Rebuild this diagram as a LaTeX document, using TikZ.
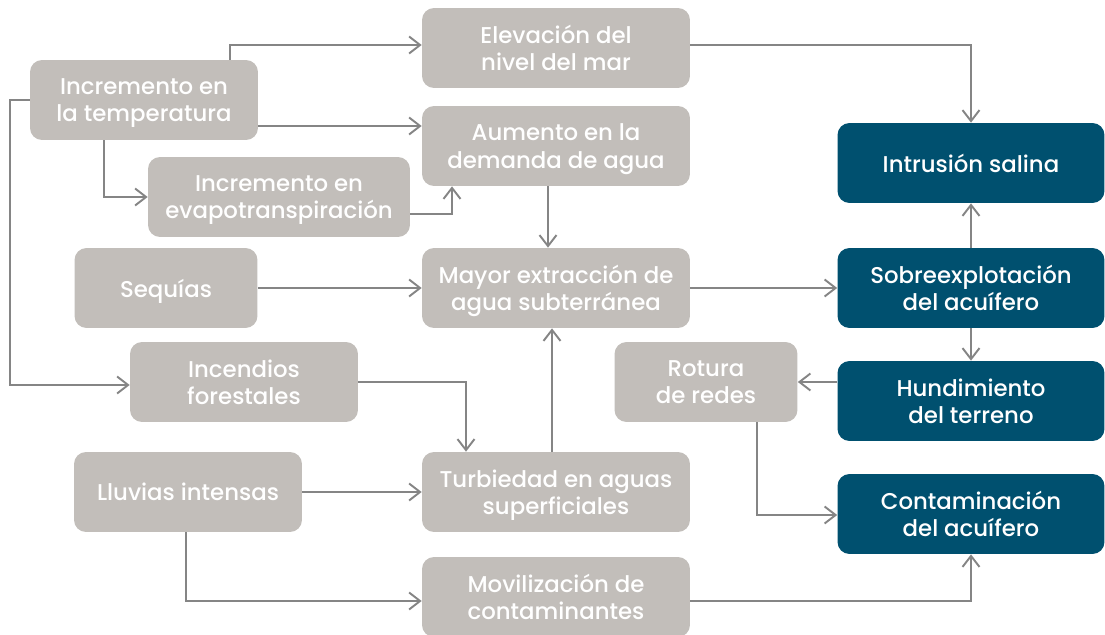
\documentclass[tikz,border=0pt]{standalone}
\usepackage{fontspec}
\setmainfont{Poppins}[UprightFont=* Medium]
\usetikzlibrary{arrows.meta,calc}
\definecolor{boxgray}{HTML}{C2BEBA}
\definecolor{boxblue}{HTML}{00506F}
\definecolor{linegray}{HTML}{858585}
\tikzset{
    %Define standard arrow tip
    >={Straight Barb[length=2.2mm,width=3.4mm]},
    %Define style for boxes
    cause/.style={
           rectangle,
           rounded corners=0.24cm,
           fill=boxgray,
           text=white,
           minimum width=5.36cm,
           minimum height=1.6cm,
           font=\fontsize{13}{15.5}\selectfont,
           text depth=0pt,
           align=center,
           },
    effect/.style={
           cause,
           fill=boxblue,
           },
    % Define arrow style
    pil/.style={
           ->,
           draw=linegray,
           line width=1.1pt,
           rounded corners=0pt,},
}
\begin{document}
\begin{tikzpicture}[x=0.02cm,y=-0.02cm]
\useasboundingbox (0,0) rectangle (1105,635);

 %nodes
\node[cause](elev) at (556,48){Elevación del\\nivel del mar};
\node[cause,minimum width=4.56cm](temp) at (144,100){Incremento en\\la temperatura};
\node[cause](aum) at (556,146){Aumento en la\\demanda de agua};
\node[cause,minimum width=5.24cm](evap) at (279,197){Incremento en\\evapotranspiración};
\node[cause,minimum width=3.66cm](seq) at (166,288){Sequías};
\node[cause](mayor) at (556,288){Mayor extracción de\\agua subterránea};
\node[cause,minimum width=4.56cm](inc) at (244,382){Incendios\\forestales};
\node[cause,minimum width=4.56cm](llu) at (188,492){Lluvias intensas};
\node[cause](turb) at (556,492){Turbiedad en aguas\\superficiales};
\node[cause](mov) at (556,597){Movilización de\\contaminantes};
\node[cause,minimum width=3.66cm](rot) at (706,382){Rotura\\de redes};
\node[effect,minimum width=5.34cm](intr) at (971,163){Intrusión salina};
\node[effect,minimum width=5.34cm](sobre) at (971,288){Sobreexplotación\\del acuífero};
\node[effect,minimum width=5.34cm](hund) at (971,401){Hundimiento\\del terreno};
\node[effect,minimum width=5.34cm](cont) at (971,514){Contaminación\\del acuífero};

 %connectors
\draw[pil] ($(temp.north)+(86,0)$) |- ($(elev.west)+(0,-3)$);
\draw[pil] ($(temp.east)+(0,26)$) -- ($(aum.west)+(0,-20)$);
\draw[pil] ($(temp.south)+(-40,0)$) |- (evap.west);
\draw[pil] (temp.west) -- ++(-20,0) |- ($(inc.west)+(0,3)$);
\draw[pil] ($(evap.east)+(0,17)$) -| ($(aum.south)+(-104,0)$);
\draw[pil] ($(elev.east)+(0,-3)$) -| (intr.north);
\draw[pil] ($(aum.south)+(-8,0)$) -- ($(mayor.north)+(-8,0)$);
\draw[pil] (seq.east) -- (mayor.west);
\draw[pil] (mayor.east) -- (sobre.west);
\draw[pil] (sobre.north) -- (intr.south);
\draw[pil] (sobre.south) -- (hund.north);
\draw[pil] (hund.west |- rot.east) -- (rot.east);
\draw[pil] ($(rot.south)+(51,0)$) |- ($(cont.west)+(0,1)$);
\draw[pil] (inc.east) -| ($(turb.north)+(-90,0)$);
\draw[pil] ($(turb.north)+(-4,0)$) -- ($(mayor.south)+(-4,0)$);
\draw[pil] (llu.east) -- (turb.west);
\draw[pil] ($(llu.south)+(-2,0)$) |- ($(mov.west)+(0,4)$);
\draw[pil] ($(mov.east)+(0,4)$) -| (cont.south);

\end{tikzpicture}
\end{document}
